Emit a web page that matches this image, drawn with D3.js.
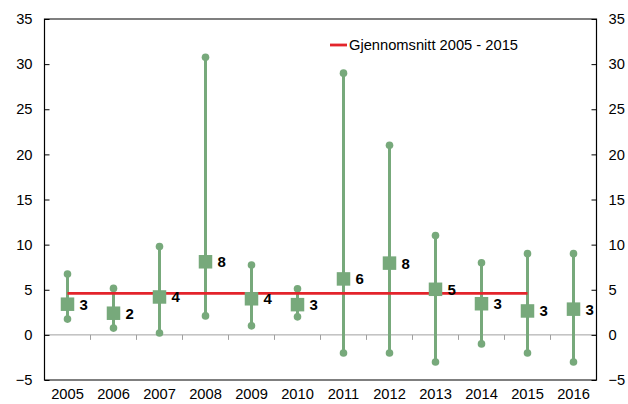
<!DOCTYPE html>
<html><head><meta charset="utf-8">
<script src="https://cdn.jsdelivr.net/npm/d3@7"></script>
<style>body{margin:0;background:#fff}svg{display:block;font-family:"Liberation Sans",Arial,sans-serif}</style>
</head><body><svg id="c" width="628" height="404"></svg>
<script>
const years = ["2005","2006","2007","2008","2009","2010","2011","2012","2013","2014","2015","2016"];
const highs = [6.75,5.15,9.8,30.75,7.75,5.1,29.0,21.0,11.0,8.0,9.0,9.0];
const lows  = [1.75,0.75,0.2,2.1,1.0,2.0,-2.0,-2.0,-3.0,-1.0,-2.0,-3.0];
const means = [3.4,2.4,4.2,8.1,4.0,3.35,6.2,7.95,5.05,3.45,2.65,2.85];
const labels = ["3","2","4","8","4","3","6","8","5","3","3","3"];
const avgValue = 4.6;
const avgFrom = "2005", avgTo = "2015";
const yTicks = [-5,0,5,10,15,20,25,30,35];
const legendText = "Gjennomsnitt 2005 - 2015";

const svg = d3.select("#c");
const L=44.5, R=596.5, T=19, B=380;
const green="#77a97b", red="#e3242b";
const FS=14.7;
const x = d3.scaleBand().domain(years).range([L,R]).paddingInner(0).paddingOuter(0);
const y = d3.scaleLinear().domain([-5,35]).range([B,T]);
const cx = d => x(d)+x.bandwidth()/2;

svg.append("line").attr("x1",L).attr("x2",R).attr("y1",y(0)).attr("y2",y(0)).attr("stroke","#a0a0a0").attr("stroke-width",1);
years.slice(1).forEach(d=>{
  svg.append("line").attr("x1",x(d)).attr("x2",x(d)).attr("y1",y(0)).attr("y2",y(0)+5).attr("stroke","#a0a0a0").attr("stroke-width",1);
});

svg.append("path").attr("d",`M${L},${B}V${T}H${R}V${B}Z`).attr("fill","none").attr("stroke","#000").attr("stroke-width",1.2);

const la = svg.append("g").attr("transform",`translate(${L},0)`).call(d3.axisLeft(y).tickValues(yTicks).tickSize(-5).tickPadding(12));
la.select(".domain").remove();
la.selectAll("text").attr("font-size",FS).attr("fill","#000").style("font-family","Liberation Sans, Arial, sans-serif");
la.selectAll("line").attr("stroke","#000");
const ra = svg.append("g").attr("transform",`translate(${R},0)`).call(d3.axisRight(y).tickValues(yTicks).tickSize(-5).tickPadding(12));
ra.select(".domain").remove();
ra.selectAll("text").attr("font-size",FS).attr("fill","#000").style("font-family","Liberation Sans, Arial, sans-serif");
ra.selectAll("line").attr("stroke","#000");

svg.append("g").selectAll("text").data(years).join("text")
  .attr("x",d=>cx(d)).attr("y",B+19).attr("text-anchor","middle").attr("font-size",FS).attr("fill","#000").text(d=>d);

const data = years.map((d,i)=>({year:d,hi:highs[i],lo:lows[i],m:means[i],lab:labels[i]}));

const g = svg.append("g");
g.selectAll("line.rng").data(data).join("line").attr("class","rng")
  .attr("x1",d=>cx(d.year)).attr("x2",d=>cx(d.year)).attr("y1",d=>y(d.hi)).attr("y2",d=>y(d.lo))
  .attr("stroke",green).attr("stroke-width",3);
g.selectAll("circle.hi").data(data).join("circle").attr("cx",d=>cx(d.year)).attr("cy",d=>y(d.hi)).attr("r",3.8).attr("fill",green);
g.selectAll("circle.lo").data(data).join("circle").attr("cx",d=>cx(d.year)).attr("cy",d=>y(d.lo)).attr("r",3.8).attr("fill",green);
svg.append("line").attr("x1",cx(avgFrom)).attr("x2",cx(avgTo)).attr("y1",y(avgValue)).attr("y2",y(avgValue)).attr("stroke",red).attr("stroke-width",2.8);
const s=13.5;
svg.append("g").selectAll("rect").data(data).join("rect")
  .attr("x",d=>cx(d.year)-s/2).attr("y",d=>y(d.m)-s/2).attr("width",s).attr("height",s).attr("fill",green);
svg.append("g").selectAll("text").data(data).join("text")
  .attr("x",d=>cx(d.year)+12).attr("y",d=>y(d.m)+5.5).attr("font-size",15).attr("font-weight","bold").attr("fill","#000").text(d=>d.lab);

svg.append("line").attr("x1",330).attr("x2",347).attr("y1",45).attr("y2",45).attr("stroke",red).attr("stroke-width",2.8);
svg.append("text").attr("x",349).attr("y",50).attr("font-size",FS).attr("fill","#000").text(legendText);
</script></body></html>
